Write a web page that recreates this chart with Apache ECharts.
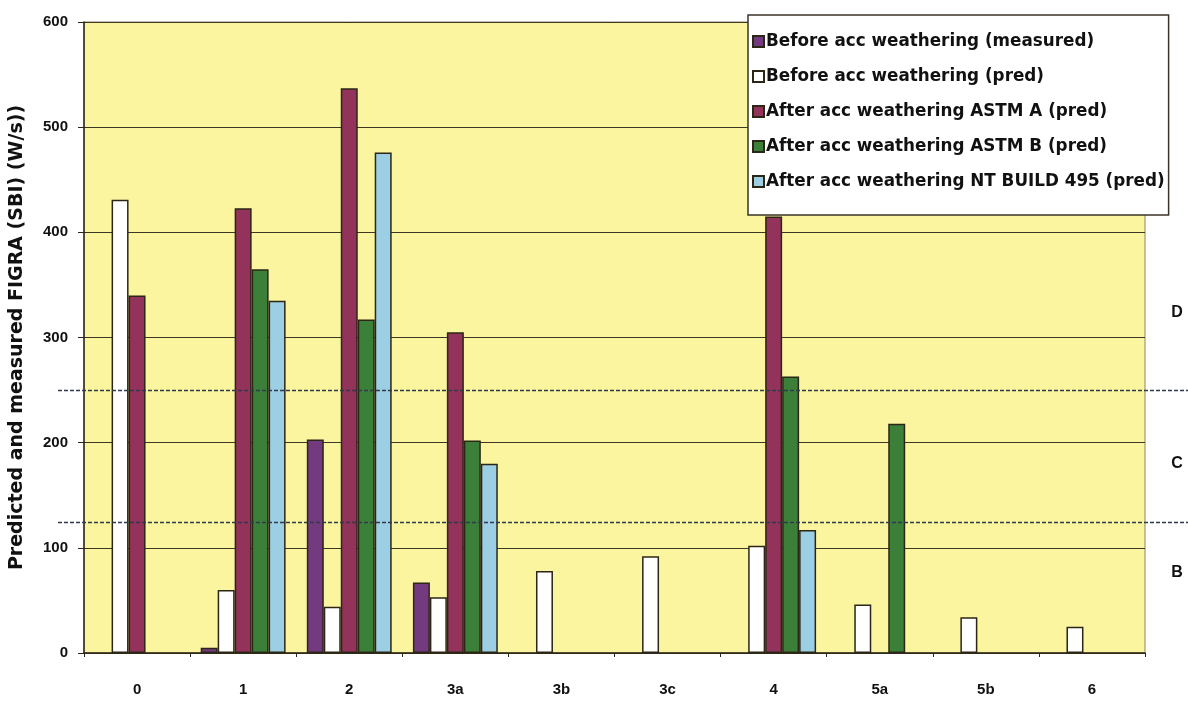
<!DOCTYPE html>
<html>
<head>
<meta charset="utf-8">
<script src="https://cdn.jsdelivr.net/npm/echarts@6/dist/echarts.min.js"></script>
<style>
  html, body { margin: 0; padding: 0; background: #ffffff; }
  #chart { width: 1188px; height: 714px; }
</style>
</head>
<body>
<div id="chart"></div>
<script>
// Categories (product codes)
const categories = ['0', '1', '2', '3a', '3b', '3c', '4', '5a', '5b', '6'];

// FIGRA (SBI) values in W/s; null = no value for that product
const measuredBefore = [null, 5, 203, 67, null, null, null, null, null, null];
const predBefore     = [431, 60, 44, 53, 78, 92, 102, 46, 34, 25];
const predAstmA      = [340, 423, 537, 305, null, null, 415, null, null, null];
const predAstmB      = [null, 365, 317, 202, null, null, 263, 218, null, null];
const predNtBuild    = [null, 335, 476, 180, null, null, 117, null, null, null];

const seriesNames = [
  'Before acc weathering (measured)',
  'Before acc weathering (pred)',
  'After acc weathering ASTM A (pred)',
  'After acc weathering ASTM B (pred)',
  'After acc weathering NT BUILD 495 (pred)'
];
const seriesData = [measuredBefore, predBefore, predAstmA, predAstmB, predNtBuild];
const seriesColors = ['#743a80', '#ffffff', '#93325a', '#3b7f38', '#9dcfe4'];

// Euroclass limits and class letters
const classLimits = [125, 250];
const classLabels = ['B', 'C', 'D'];
const classLabelValues = [76, 180, 324];

// Y axis ticks
const yMin = 0, yMax = 600, yStep = 100;

const WIDE = '"DejaVu Sans", "Liberation Sans", Arial, sans-serif';
const ARIAL = '"Liberation Sans", Arial, sans-serif';
const DARK = '#2b2616';

const chart = echarts.init(document.getElementById('chart'), null, { renderer: 'canvas' });

const option = {
  animation: false,
  backgroundColor: '#ffffff',
  grid: {
    left: 83, right: 43, top: 22, bottom: 61,
    show: true,
    backgroundColor: '#faf59e',
    borderColor: '#8a8670',
    borderWidth: 1
  },
  legend: {
    orient: 'vertical',
    left: 748,
    top: 15,
    padding: [18, 4, 25, 4],
    itemGap: 18,
    itemWidth: 11,
    itemHeight: 11,
    icon: 'rect',
    backgroundColor: '#ffffff',
    borderColor: '#3a3528',
    borderWidth: 1.5,
    textStyle: { fontFamily: WIDE, fontWeight: 'bold', fontSize: 16.8, color: '#111', padding: [0, 0, 0, -3] },
    data: seriesNames,
    z: 10
  },
  xAxis: {
    type: 'category',
    data: categories,
    axisLine: { lineStyle: { color: DARK, width: 1.5 } },
    axisTick: { show: true, length: 4, lineStyle: { color: DARK } },
    axisLabel: { fontFamily: ARIAL, fontWeight: 'bold', fontSize: 15, color: '#111', margin: 29 }
  },
  yAxis: {
    type: 'value',
    min: yMin, max: yMax, interval: yStep,
    name: 'Predicted and measured FIGRA (SBI) (W/s))',
    nameLocation: 'middle',
    nameGap: 57,
    nameTextStyle: { fontFamily: WIDE, fontWeight: 'bold', fontSize: 19, color: '#111' },
    axisLine: { show: true, lineStyle: { color: DARK, width: 1.5 } },
    axisTick: { show: true, length: 6, lineStyle: { color: DARK } },
    axisLabel: { fontFamily: ARIAL, fontWeight: 'bold', fontSize: 15, color: '#111', margin: 16 },
    splitLine: { show: true, lineStyle: { color: '#3d3822', width: 1.2 } }
  },
  series: seriesData.map((d, i) => ({
    name: seriesNames[i],
    type: 'bar',
    data: d,
    barGap: '0%',
    barCategoryGap: '20%',
    itemStyle: { color: seriesColors[i], borderColor: DARK, borderWidth: 1.5 }
  }))
};

chart.setOption(option);

// Dashed class-limit lines and class letters, placed through the value axis
function drawClassMarks() {
  const g = [];
  classLimits.forEach(v => {
    const y = Math.round(chart.convertToPixel({ yAxisIndex: 0 }, v)) + 0.5;
    g.push({
      type: 'line',
      shape: { x1: 58, y1: y, x2: 1188, y2: y },
      style: { stroke: '#2f3b4a', lineWidth: 1.3, lineDash: [4, 2] },
      z: 5
    });
  });
  classLabels.forEach((t, i) => {
    const y = chart.convertToPixel({ yAxisIndex: 0 }, classLabelValues[i]);
    g.push({
      type: 'text',
      x: 1177, y: y,
      style: { text: t, fontFamily: ARIAL, fontWeight: 'bold', fontSize: 16, fill: '#111',
               align: 'center', verticalAlign: 'middle' },
      z: 5
    });
  });
  chart.setOption({ graphic: g });
}
drawClassMarks();
</script>
</body>
</html>
